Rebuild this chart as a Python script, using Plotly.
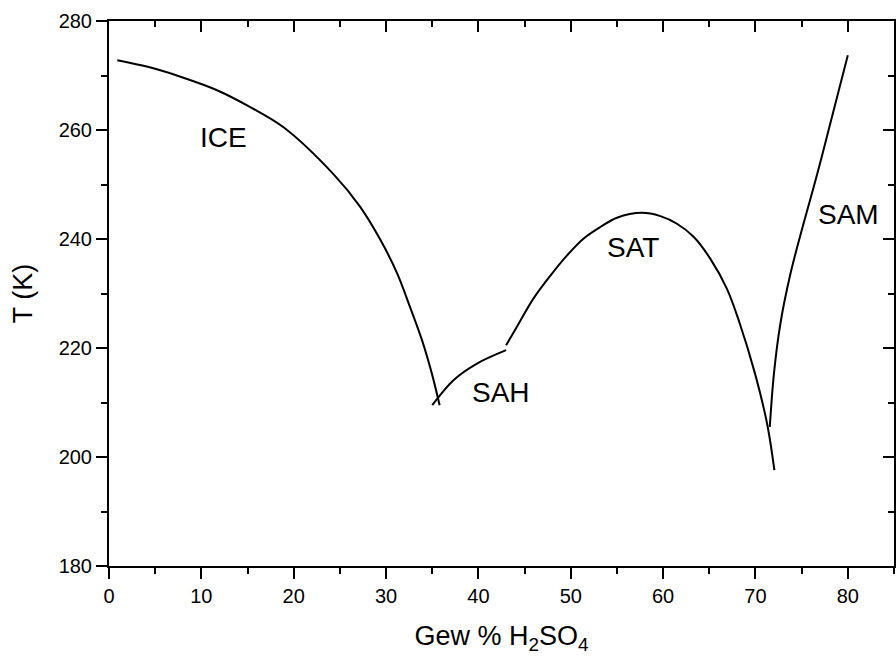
import plotly.graph_objects as go

# ICE melting curve
ice_x = [0.9, 4.4, 8.05, 11.7, 15.3, 18.9, 24.3, 27.2, 29.4, 31.2, 32.6, 33.9, 34.96, 35.8]
ice_t = [272.8, 271.5, 269.6, 267.3, 264.2, 260.5, 251.9, 245.9, 239.8, 233.7, 227.5, 221.4, 215.3, 209.5]

# SAH curve
sah_x = [35.0, 37.3, 39.8, 43.0]
sah_t = [209.5, 214.1, 217.1, 219.6]

# SAT curve
sat_x = [43.0, 44.2, 45.97, 47.8, 49.6, 51.4, 53.2, 55.0, 57.7, 59.7, 61.5, 63.3, 65.1, 66.9, 68.3, 69.95, 71.26, 72.05]
sat_t = [220.5, 224.0, 229.1, 233.3, 237.0, 240.1, 242.2, 243.9, 244.8, 244.2, 242.8, 240.4, 236.4, 230.9, 224.5, 215.3, 206.1, 197.6]

# SAM curve
sam_x = [71.55, 72.0, 72.7, 73.8, 75.2, 76.7, 78.1, 80.0]
sam_t = [205.5, 215.3, 224.5, 233.7, 242.8, 252.0, 261.2, 273.7]

labels = ["ICE", "SAH", "SAT", "SAM"]
label_x = [12.45, 42.4, 56.7, 80.1]
label_t = [258.7, 211.9, 238.5, 244.5]

x_range = [0, 85]
y_range = [180, 280]

FONT = "Liberation Sans, Arial, sans-serif"

fig = go.Figure()
for xs, ts in [(ice_x, ice_t), (sah_x, sah_t), (sat_x, sat_t), (sam_x, sam_t)]:
    fig.add_trace(go.Scatter(x=xs, y=ts, mode="lines",
                             line=dict(color="black", width=2, shape="spline", smoothing=1.0),
                             showlegend=False, hoverinfo="skip"))
# helper trace for mirrored axes
fig.add_trace(go.Scatter(x=[], y=[], xaxis="x2", yaxis="y2", showlegend=False, hoverinfo="skip"))

for lab, lx, lt in zip(labels, label_x, label_t):
    fig.add_annotation(x=lx, y=lt, text=lab, showarrow=False,
                       xanchor="center", yanchor="middle",
                       font=dict(family=FONT, size=28, color="black"))

axis_common = dict(showline=True, linecolor="black", linewidth=2, showgrid=False,
                   zeroline=False, tickcolor="black", tickwidth=2, ticklen=11)

fig.update_layout(
    width=896, height=659,
    margin=dict(l=109, r=2, t=21, b=93),
    paper_bgcolor="white", plot_bgcolor="white",
    font=dict(family=FONT, color="black"),
    xaxis=dict(range=x_range, dtick=10, tick0=0, ticks="outside",
               tickfont=dict(size=20),
               title=dict(text="Gew % H<sub>2</sub>SO<sub>4</sub>", font=dict(size=27), standoff=20),
               minor=dict(dtick=5, ticks="outside", ticklen=6, tickwidth=2, tickcolor="black"),
               **axis_common),
    yaxis=dict(range=y_range, dtick=20, tick0=180, ticks="outside",
               tickfont=dict(size=20),
               title=dict(text="T (K)", font=dict(size=27), standoff=18),
               minor=dict(dtick=10, ticks="outside", ticklen=6, tickwidth=2, tickcolor="black"),
               **axis_common),
    xaxis2=dict(range=x_range, dtick=10, tick0=0, ticks="inside", overlaying="x", side="top",
                showticklabels=False,
                minor=dict(dtick=5, ticks="inside", ticklen=6, tickwidth=2, tickcolor="black"),
                **axis_common),
    yaxis2=dict(range=y_range, dtick=20, tick0=180, ticks="inside", overlaying="y", side="right",
                showticklabels=False,
                minor=dict(dtick=10, ticks="inside", ticklen=6, tickwidth=2, tickcolor="black"),
                **axis_common),
)

fig.write_html("out.html")
